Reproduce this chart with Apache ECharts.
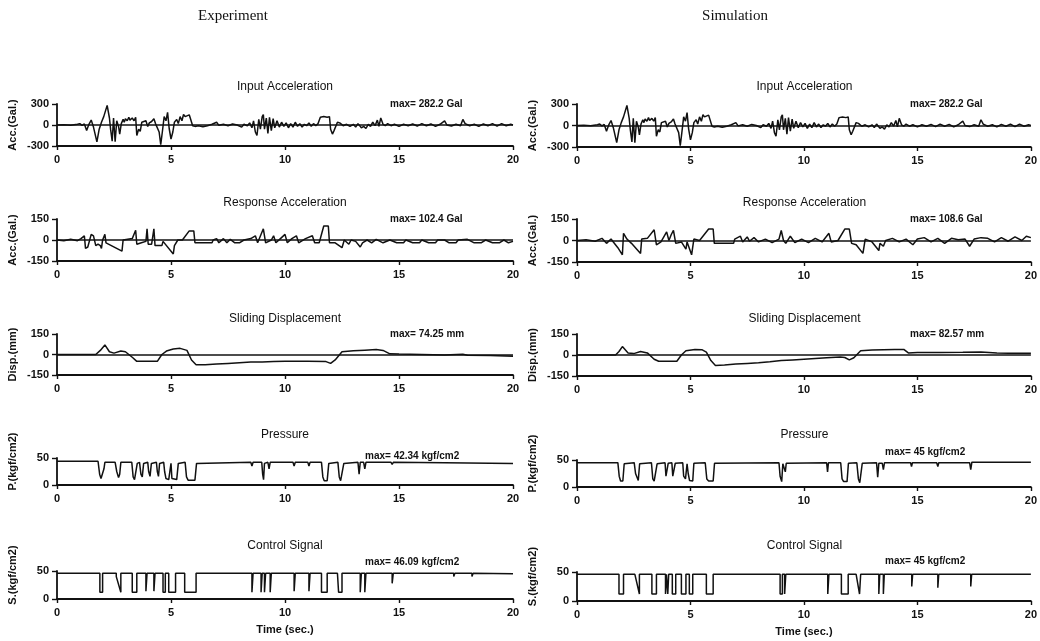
<!DOCTYPE html>
<html>
<head>
<meta charset="utf-8">
<script src="https://cdn.jsdelivr.net/npm/echarts@6.0.0/dist/echarts.min.js"></script>
<style>
  html, body { margin: 0; padding: 0; background: #fff; }
  #chart { width: 1040px; height: 641px; }
</style>
</head>
<body>
<div id="chart"></div>
<script>
// time in seconds
const inputAcc = [
  [0,0],[0.3,5],[0.6,-5],[0.9,10],[1.0,20],[1.1,-5],[1.2,15],[1.3,-80],[1.4,10],[1.5,70],[1.6,-30],
  [1.75,-240],[1.85,-60],[1.95,40],[2.05,120],[2.2,280],[2.3,100],[2.35,-60],[2.42,-230],[2.48,100],
  [2.55,-240],[2.62,60],[2.7,-20],[2.75,-130],[2.82,20],[2.9,80],[2.95,40],[3.0,90],[3.08,60],[3.15,110],
  [3.2,70],[3.3,100],[3.38,60],[3.45,110],[3.5,-150],[3.58,-60],[3.65,-90],[3.72,40],[3.8,20],[3.9,60],
  [3.98,-20],[4.05,30],[4.15,50],[4.25,90],[4.32,20],[4.4,40],[4.48,-100],[4.55,-280],[4.62,-100],[4.7,120],
  [4.78,60],[4.85,180],[4.92,-50],[5.0,-200],[5.08,-100],[5.15,40],[5.25,80],[5.32,20],[5.4,120],[5.48,60],
  [5.55,150],[5.62,120],[5.7,140],[5.8,145],[5.88,130],[5.95,-10],[6.05,-20],[6.2,-10],[6.4,-25],[6.6,-10],
  [6.8,10],[7.0,40],[7.1,-5],[7.3,10],[7.5,-10],[7.7,15],[7.9,0],[8.1,-30],[8.2,10],[8.35,-10],[8.45,30],
  [8.55,-40],[8.62,60],[8.7,-100],[8.77,-150],[8.85,80],[8.92,-60],[9.0,120],[9.05,150],[9.1,-60],[9.18,100],
  [9.25,-120],[9.32,110],[9.4,-80],[9.48,90],[9.55,-40],[9.65,60],[9.75,-30],[9.85,40],[9.95,-20],[10.05,30],
  [10.15,-40],[10.25,20],[10.35,-30],[10.45,40],[10.55,-20],[10.65,20],[10.75,-30],[10.85,10],[10.95,-10],
  [11.05,30],[11.15,-20],[11.25,20],[11.35,-10],[11.45,20],[11.55,110],[11.7,120],[11.85,110],[11.95,120],
  [12.0,-60],[12.08,-130],[12.15,-80],[12.3,40],[12.4,30],[12.55,-10],[12.7,10],[12.85,-20],[13.0,10],
  [13.1,-30],[13.2,20],[13.35,-40],[13.45,-20],[13.55,-50],[13.65,10],[13.75,-20],[13.85,40],[13.95,-10],
  [14.05,70],[14.12,-20],[14.2,100],[14.3,10],[14.4,-10],[14.5,20],[14.65,-10],[14.8,10],[15.0,-20],
  [15.2,10],[15.4,-10],[15.6,15],[15.8,-15],[16.0,20],[16.2,-10],[16.4,15],[16.6,-20],[16.8,10],[17.0,60],
  [17.1,0],[17.3,-15],[17.5,10],[17.7,-10],[17.8,80],[17.9,20],[18.1,-10],[18.3,10],[18.5,-20],[18.7,15],
  [18.9,-10],[19.1,20],[19.3,-15],[19.5,20],[19.7,-10],[19.9,10],[20,0]
];

const respAccExp = [
  [0,0],[0.3,-5],[0.6,5],[0.9,-5],[1.05,10],[1.2,30],[1.25,-60],[1.35,-50],[1.5,40],[1.6,30],[1.7,-40],
  [1.8,-30],[1.9,-40],[1.95,-60],[2.0,0],[2.1,40],[2.15,-20],[2.85,-80],[2.9,0],[3.1,5],[3.3,10],[3.45,70],
  [3.5,-30],[3.7,-20],[3.9,-10],[3.95,80],[4.0,-30],[4.15,-30],[4.25,80],[4.3,-40],[4.6,-40],[4.65,-10],
  [5.1,-100],[5.15,-40],[5.3,0],[5.5,0],[5.8,65],[6.0,65],[6.05,-20],[6.8,-20],[6.85,0],[7.0,10],[7.1,-20],
  [7.3,10],[7.45,-20],[7.6,5],[7.8,-20],[8.0,-20],[8.2,0],[8.5,10],[8.7,30],[8.8,-20],[9.05,80],[9.15,-20],
  [9.4,0],[9.5,30],[9.6,-20],[9.8,10],[10.0,40],[10.1,-20],[10.3,10],[10.5,30],[10.6,-20],[10.9,10],[11.2,30],
  [11.3,-20],[11.5,-20],[11.7,100],[11.9,100],[11.95,-20],[12.2,-20],[12.5,-55],[12.6,0],[12.8,-30],[12.9,0],
  [13.1,-10],[13.3,-50],[13.4,-20],[13.6,0],[13.8,-20],[14.0,5],[14.3,-20],[14.6,0],[14.9,-20],[15.2,-20],
  [15.3,0],[15.6,-20],[15.9,-20],[16.0,0],[16.3,-20],[16.6,-20],[16.7,0],[17.0,0],[17.2,-20],[17.5,-20],
  [17.6,0],[18.0,5],[18.3,-20],[18.6,-20],[18.8,0],[19.1,-20],[19.4,-20],[19.6,0],[19.8,-20],[20,-10]
];

const respAccSim = [
  [0,0],[0.4,5],[0.8,-5],[1.1,15],[1.3,-20],[1.5,10],[1.6,-10],[1.8,-50],[2.0,-100],[2.05,50],[2.2,10],
  [2.4,-20],[2.8,-90],[2.85,10],[3.1,15],[3.4,75],[3.5,-30],[3.7,-10],[3.95,60],[4.05,0],[4.15,40],[4.25,70],
  [4.35,-20],[4.6,-10],[4.8,-60],[4.85,-10],[5.05,-100],[5.15,10],[5.4,0],[5.8,80],[6.0,80],[6.05,-20],
  [6.9,-20],[6.95,10],[7.2,30],[7.3,-10],[7.5,25],[7.6,-5],[7.8,20],[8.0,-10],[8.3,10],[8.6,-15],[8.9,10],
  [9.0,70],[9.1,0],[9.2,-20],[9.4,30],[9.6,-15],[9.9,10],[10.2,-15],[10.5,15],[10.8,-10],[11.1,50],[11.2,-10],
  [11.5,0],[11.8,80],[12.0,80],[12.1,-20],[12.3,-30],[12.6,-90],[12.7,10],[13.0,-10],[13.3,-70],[13.35,-20],
  [13.5,-40],[13.6,0],[13.9,15],[14.2,-10],[14.5,10],[14.8,-30],[15.0,10],[15.3,20],[15.6,-10],[15.9,15],
  [16.2,-20],[16.5,15],[16.8,5],[17.1,10],[17.3,-40],[17.5,10],[17.8,20],[18.1,15],[18.4,-10],[18.7,20],
  [19.0,-5],[19.3,25],[19.6,0],[19.8,30],[20,20]
];

const dispExp = [
  [0,0],[1.7,0],[1.9,30],[2.1,70],[2.3,20],[2.5,10],[2.8,25],[3.0,20],[3.3,-20],[3.5,-50],[4.0,-50],[4.4,-50],
  [4.6,0],[4.8,25],[5.1,40],[5.4,45],[5.7,30],[5.9,-40],[6.1,-75],[6.5,-75],[7.0,-70],[7.5,-65],[8.0,-60],
  [8.5,-55],[9.0,-55],[9.5,-52],[10,-50],[11,-50],[11.8,-52],[12.0,-65],[12.2,-40],[12.5,20],[13.0,28],
  [13.5,32],[14.0,36],[14.3,30],[14.6,5],[15,3],[16,0],[17,-3],[17.8,2],[18,-5],[19,-8],[20,-12]
];

const dispSim = [
  [0,0],[1.7,0],[1.85,25],[2.0,60],[2.25,15],[2.5,10],[2.8,25],[3.1,15],[3.4,-30],[3.6,-45],[4.0,-45],
  [4.4,-45],[4.6,0],[4.8,30],[5.2,40],[5.5,38],[5.7,20],[5.9,-40],[6.1,-75],[6.5,-72],[7.0,-65],[7.5,-60],
  [8.0,-55],[8.5,-48],[9.0,-40],[9.5,-35],[10,-30],[10.5,-25],[11,-20],[11.6,-15],[11.8,-18],[12.0,-35],
  [12.2,-20],[12.5,30],[13.0,35],[13.5,38],[14.0,40],[14.4,40],[14.6,15],[15,18],[16,18],[17,20],[17.8,22],
  [18.5,15],[19,12],[20,12]
];

const pressExp = [
  [0,44],[1.8,44],[1.87,20],[1.93,12],[2.0,12],[2.06,30],[2.1,42],[2.55,42],[2.62,25],[2.7,14],[2.75,20],
  [2.8,42],[3.28,42],[3.34,15],[3.4,10],[3.48,10],[3.52,40],[3.62,42],[3.68,20],[3.74,15],[3.8,40],[3.98,42],
  [4.02,25],[4.08,16],[4.14,40],[4.36,42],[4.4,25],[4.45,16],[4.5,40],[4.68,42],[4.72,25],[4.78,12],[4.9,10],
  [5.0,40],[5.04,12],[5.1,10],[5.25,10],[5.32,40],[5.36,42],[5.62,42],[5.68,15],[5.75,9],[6.05,9],[6.12,40],
  [6.2,43],[8.5,42],[8.55,35],[8.6,42],[8.98,42],[9.02,20],[9.06,10],[9.1,40],[9.25,42],[9.3,30],[9.35,42],
  [10.35,42],[10.4,35],[10.45,42],[11.0,42],[11.05,35],[11.1,42],[11.6,42],[11.66,15],[11.72,8],[11.85,8],
  [11.92,40],[12.32,42],[12.38,15],[12.44,8],[12.52,8],[12.58,40],[13.2,42],[13.25,20],[13.3,42],[13.45,42],
  [13.5,30],[13.55,42],[14.65,42],[14.7,38],[14.75,42],[17,41],[20,40]
];

const pressSim = [
  [0,45],[1.8,45],[1.86,20],[1.92,11],[2.02,11],[2.08,43],[2.52,45],[2.58,25],[2.7,12],[2.76,43],[3.28,45],
  [3.34,15],[3.4,11],[3.48,11],[3.53,43],[3.88,45],[3.92,20],[3.98,18],[4.02,44],[4.18,45],[4.22,20],[4.28,18],
  [4.33,44],[4.66,45],[4.7,20],[4.78,15],[4.85,43],[4.9,25],[4.96,12],[5.1,11],[5.15,44],[5.65,45],[5.72,15],
  [5.8,11],[6.0,11],[6.06,44],[8.9,45],[8.95,20],[9.02,10],[9.07,43],[9.15,42],[9.18,28],[9.22,44],[11.0,45],
  [11.04,28],[11.08,45],[11.62,45],[11.68,15],[11.75,10],[11.9,10],[11.96,44],[12.33,45],[12.4,15],[12.46,8],
  [12.52,10],[12.57,44],[13.2,45],[13.25,18],[13.3,44],[13.45,44],[13.5,32],[13.55,45],[14.7,45],[14.74,38],
  [14.78,45],[15.85,45],[15.9,38],[15.94,45],[17.3,45],[17.35,32],[17.4,46],[20,46]
];

const ctrlExp = [
  [0,46],[1.88,46],[1.88,12],[2.0,12],[2.0,46],[2.6,46],[2.6,40],[2.8,12],[2.8,46],[3.3,46],[3.3,12],[3.5,12],
  [3.5,46],[3.9,46],[3.9,14],[3.95,14],[3.95,46],[4.25,46],[4.25,14],[4.3,14],[4.3,46],[4.65,46],[4.65,12],
  [4.75,12],[4.75,46],[4.9,46],[4.9,12],[5.2,12],[5.2,46],[5.6,46],[5.6,12],[6.1,12],[6.1,46],[8.55,46],
  [8.55,12],[8.6,12],[8.6,46],[8.95,46],[8.95,12],[9.0,12],[9.0,46],[9.1,46],[9.1,12],[9.15,12],[9.15,46],
  [9.35,46],[9.35,12],[9.4,12],[9.4,46],[10.4,46],[10.4,14],[10.45,14],[10.45,46],[11.05,46],[11.05,14],
  [11.1,14],[11.1,46],[11.6,46],[11.6,12],[11.85,12],[11.85,46],[12.3,46],[12.35,12],[12.5,12],[12.5,46],
  [13.3,46],[13.3,12],[13.35,12],[13.35,46],[13.5,46],[13.5,12],[13.55,12],[13.55,46],[14.7,46],[14.7,28],
  [14.75,28],[14.75,46],[17.4,46],[17.4,40],[17.45,46],[18.2,46],[18.2,40],[18.25,46],[20,45]
];

const ctrlSim = [
  [0,46],[1.85,46],[1.85,12],[2.05,12],[2.05,46],[2.55,46],[2.55,44],[2.75,12],[2.75,46],[3.3,46],[3.3,12],
  [3.5,12],[3.5,46],[3.9,46],[3.9,12],[3.94,12],[3.94,46],[4.0,46],[4.0,12],[4.04,12],[4.04,46],[4.2,46],
  [4.2,12],[4.35,12],[4.35,46],[4.6,46],[4.6,12],[4.8,12],[4.8,46],[4.95,46],[4.95,12],[5.1,12],[5.1,46],
  [5.7,46],[5.7,12],[6.0,12],[6.0,46],[8.95,46],[8.95,12],[9.05,12],[9.05,46],[9.15,46],[9.15,12],[9.2,12],
  [9.2,46],[11.05,46],[11.05,12],[11.1,12],[11.1,46],[11.65,46],[11.65,12],[11.95,12],[11.95,46],[12.3,46],
  [12.45,12],[12.5,12],[12.5,46],[13.3,46],[13.3,12],[13.34,12],[13.34,46],[13.5,46],[13.5,12],[13.54,12],
  [13.54,46],[14.75,46],[14.75,25],[14.79,25],[14.79,46],[15.9,46],[15.9,23],[15.94,23],[15.94,46],
  [17.35,46],[17.35,25],[17.39,25],[17.39,46],[20,46]
];

const panelTitles = ['Input Acceleration', 'Response Acceleration', 'Sliding Displacement', 'Pressure', 'Control Signal'];
const yNames = ['Acc.(Gal.)', 'Acc.(Gal.)', 'Disp.(mm)', 'P.(kgf/cm2)', 'S.(kgf/cm2)'];
const yRanges = [[-300, 300], [-150, 150], [-150, 150], [0, 50], [0, 50]];
const maxExp = ['max= 282.2 Gal', 'max= 102.4 Gal', 'max= 74.25 mm', 'max= 42.34 kgf/cm2', 'max= 46.09 kgf/cm2'];
const maxSim = ['max= 282.2 Gal', 'max= 108.6 Gal', 'max= 82.57 mm', 'max= 45 kgf/cm2', 'max= 45 kgf/cm2'];
const columnHeads = ['Experiment', 'Simulation'];
const xTicks = { min: 0, max: 20, step: 5 };

const seriesData = [
  [inputAcc, respAccExp, dispExp, pressExp, ctrlExp],
  [inputAcc, respAccSim, dispSim, pressSim, ctrlSim]
];
const maxTexts = [maxExp, maxSim];

// layout (px)
const colLeft = [57, 577];
const colWidth = [456, 455];
const rowTop = [[104, 219, 334, 458, 571], [104, 219, 334, 460, 572]];
const rowHeight = [[42, 42, 41, 27, 28], [43, 43, 42, 27, 29]];
const titleY = [88, 204, 320, 436, 547];
const maxY = [[105, 220, 335, 457, 563], [105, 220, 335, 453, 562]];
const maxX = [390, 910];
const yNameX = [13, 533];
const headX = [233, 735];

const ink = '#111';
const sans = 'Liberation Sans, Arial, sans-serif';

const chart = echarts.init(document.getElementById('chart'));

const grid = [], xAxis = [], yAxis = [], series = [], title = [], graphic = [];

columnHeads.forEach((h, c) => {
  title.push({
    text: h, left: headX[c], top: 9, textAlign: 'center', padding: 0,
    textStyle: { fontFamily: 'Liberation Serif, DejaVu Serif, serif', fontSize: 15, fontWeight: 'normal', color: ink }
  });
});

for (let c = 0; c < 2; c++) {
  for (let r = 0; r < 5; r++) {
    const idx = grid.length;
    const top = rowTop[c][r], h = rowHeight[c][r];
    grid.push({ left: colLeft[c], top: top, width: colWidth[c], height: h, containLabel: false });
    const [ymin, ymax] = yRanges[r];
    xAxis.push({
      gridIndex: idx, type: 'value', min: xTicks.min, max: xTicks.max, interval: xTicks.step,
      axisLine: { onZero: false, lineStyle: { color: ink, width: 1.8 } },
      axisTick: { show: true, length: 4, lineStyle: { color: ink, width: 1.4 } },
      axisLabel: { color: ink, fontFamily: sans, fontWeight: 'bold', fontSize: 11, margin: 8 },
      splitLine: { show: false },
      name: r === 4 ? 'Time (sec.)' : '',
      nameLocation: 'middle', nameGap: 25,
      nameTextStyle: { color: ink, fontFamily: sans, fontWeight: 'bold', fontSize: 11 }
    });
    yAxis.push({
      gridIndex: idx, type: 'value', min: ymin, max: ymax, interval: ymax - (ymin < 0 ? 0 : ymin),
      axisLine: { show: true, lineStyle: { color: ink, width: 1.8 } },
      axisTick: { show: true, length: 5, lineStyle: { color: ink, width: 1.4 } },
      axisLabel: { color: ink, fontFamily: sans, fontWeight: 'bold', fontSize: 11, margin: 8 },
      splitLine: { show: false }
    });
    const s = {
      type: 'line', xAxisIndex: idx, yAxisIndex: idx, data: seriesData[c][r],
      showSymbol: false, symbol: 'none', animation: false, silent: true,
      lineStyle: { color: ink, width: 1.5 }
    };
    if (ymin < 0) {
      s.markLine = {
        silent: true, symbol: 'none', animation: false, label: { show: false },
        lineStyle: { color: ink, width: 1.6, type: 'solid' },
        data: [{ yAxis: 0 }]
      };
    }
    series.push(s);

    title.push({
      text: panelTitles[r], left: colLeft[c] + colWidth[c] / 2, top: titleY[r] - 7, textAlign: 'center', padding: 0,
      textStyle: { fontFamily: sans, fontSize: 12, fontWeight: 'normal', color: ink }
    });
    title.push({
      text: maxTexts[c][r], left: maxX[c] - (r >= 3 ? 25 : 0), top: maxY[c][r] - 6, padding: 0,
      textStyle: { fontFamily: sans, fontSize: 10, fontWeight: 'bold', color: ink }
    });
    graphic.push({
      type: 'text', x: yNameX[c], y: r >= 3 ? top + h / 2 - 10 : top + h / 2, rotation: Math.PI / 2,
      style: {
        text: yNames[r], fill: ink, font: 'bold 11px ' + sans,
        textAlign: 'center', textVerticalAlign: 'middle', align: 'center', verticalAlign: 'middle'
      }
    });
  }
}

chart.setOption({
  backgroundColor: '#fff',
  animation: false,
  title: title,
  grid: grid,
  xAxis: xAxis,
  yAxis: yAxis,
  series: series,
  graphic: graphic
});

window.addEventListener('resize', () => chart.resize());
</script>
</body>
</html>
